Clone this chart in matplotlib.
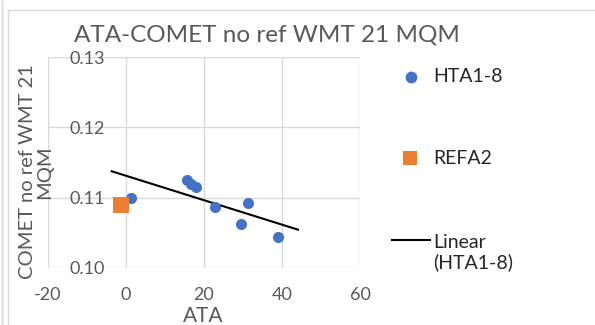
import matplotlib
matplotlib.use("Agg")
import matplotlib.pyplot as plt
import numpy as np
from matplotlib.lines import Line2D
from matplotlib.patches import Rectangle

# --- data --------------------------------------------------------------
hta_x = [1.4, 15.6, 16.6, 18.0, 22.9, 31.4, 29.5, 39.0]
hta_y = [0.1100, 0.11246, 0.1120, 0.1115, 0.1087, 0.1093, 0.1063, 0.1044]
ref_x = [-1.3]
ref_y = [0.1090]
trend_range = [-3.6, 44.1]   # Excel trendline with forecast both ways

x_ticks = [-20, 0, 20, 40, 60]
y_ticks = [0.10, 0.11, 0.12, 0.13]
legend_labels = ["HTA1-8", "REFA2", "Linear\n(HTA1-8)"]

BLUE = "#4472C4"
ORANGE = "#ED7D31"
GRID = "#D9D9D9"
TXT = "#595959"

plt.rcParams["font.family"] = ["Lato", "DejaVu Sans"]

W, H = 595, 325
fig = plt.figure(figsize=(W / 100, H / 100), dpi=100)
fig.patch.set_facecolor("white")


def fx(px):
    return px / W


def fy(py):
    return 1 - py / H


# chart-area border (Excel frame)
fig.patches.append(Rectangle((fx(8), -0.1), 1.0, fy(10) + 0.1,
                             transform=fig.transFigure, fill=False,
                             edgecolor="#D9D9D9", lw=1))
fig.patches.append(Rectangle((fx(2), -0.1), 0, 1.2,
                             transform=fig.transFigure, fill=False,
                             edgecolor="#D9D9D9", lw=1))

ax = fig.add_axes([fx(47.7), fy(268), (360 - 47.7) / W, (268 - 57) / H])

ax.scatter(hta_x, hta_y, s=64, color=BLUE, zorder=3, linewidths=0)
ax.scatter(ref_x, ref_y, s=120, color=ORANGE, marker="s", zorder=3, linewidths=0)

slope, icpt = np.polyfit(hta_x, hta_y, 1)
tx = np.array(trend_range)
ax.plot(tx, slope * tx + icpt, color="black", lw=1.5, zorder=2)

ax.set_xlim(x_ticks[0], x_ticks[-1])
ax.set_ylim(y_ticks[0], y_ticks[-1])
ax.set_xticks(x_ticks)
ax.set_yticks(y_ticks)
ax.set_xticklabels([str(v) for v in x_ticks])
ax.set_yticklabels([f"{v:.2f}" for v in y_ticks])
ax.grid(True, color=GRID, lw=1)
ax.set_axisbelow(True)
for sp in ax.spines.values():
    sp.set_visible(False)
ax.tick_params(length=0, labelsize=13, labelcolor=TXT)
ax.tick_params(axis="y", pad=-41)
ax.tick_params(axis="x", pad=14)

fig.text(fx(203), fy(316), "ATA", ha="center", va="center",
         fontsize=15, color=TXT)
fig.text(fx(36), fy(172), "COMET no ref WMT 21\nMQM", rotation=90,
         ha="center", va="center", fontsize=14.5, color=TXT, linespacing=0.95,
         multialignment="center")

fig.text(fx(267), fy(35), "ATA-COMET no ref WMT 21 MQM", ha="center",
         va="center", fontsize=17.5, color=TXT)

# legend drawn at the right like Excel
LEG = "#262626"
fig.add_artist(Line2D([fx(411)], [fy(77)], ls="none", marker="o", ms=8.5,
                      color=BLUE, mew=0, transform=fig.transFigure))
fig.add_artist(Line2D([fx(410)], [fy(158)], ls="none", marker="s", ms=10,
                      color=ORANGE, mew=0, transform=fig.transFigure))
fig.add_artist(Line2D([fx(392), fx(430)], [fy(240), fy(240)], color="black",
                      lw=1.5, transform=fig.transFigure))
for (px, py), lab in zip([(433, 77), (433, 158), (433, 253)], legend_labels):
    fig.text(fx(px), fy(py), lab, ha="left", va="center", fontsize=14,
             color=LEG, linespacing=1.15)

fig.savefig("out.png", dpi=100)
